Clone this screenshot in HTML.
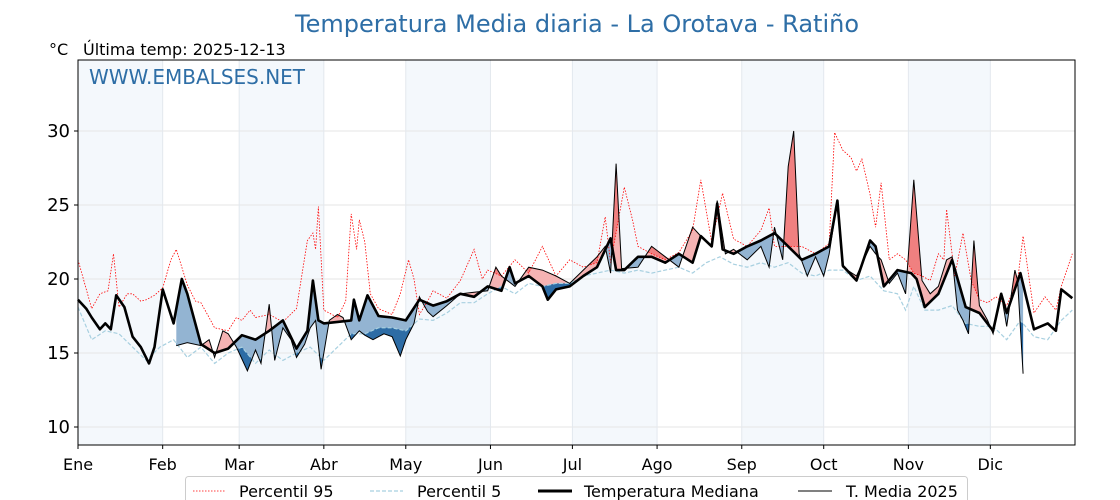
<!DOCTYPE html>
<html><head><meta charset="utf-8"><style>
html,body{margin:0;padding:0;background:#fff;}
svg{display:block;font-family:"DejaVu Sans","Liberation Sans",sans-serif;}
</style></head><body>
<svg id="chart" width="1120" height="500" viewBox="0 0 1120 500" xmlns="http://www.w3.org/2000/svg">
<text x="577" y="32" text-anchor="middle" font-size="24" fill="#2e6ea6">Temperatura Media diaria - La Orotava - Ratiño</text>
<text x="49" y="55" font-size="16" fill="#000">°C</text>
<text x="83" y="55" font-size="16" fill="#000">Última temp: 2025-12-13</text>
<g id="bands"></g>
<g id="grid"></g>
<defs id="defs"></defs>
<g id="fills"></g>
<g id="lines"></g>
<rect x="78" y="60" width="997" height="385" fill="none" stroke="#000" stroke-width="1"/>
<text x="89" y="84" font-size="20" fill="#2e6ea6">WWW.EMBALSES.NET</text>
<g id="axes"></g>
<g>
<rect x="185.5" y="476.5" width="782" height="30" rx="3" fill="#fff" stroke="#ccc"/>
<line x1="193" y1="491" x2="226" y2="491" stroke="red" stroke-width="0.8" stroke-dasharray="1.5,1.5"/>
<text x="239" y="497" font-size="16">Percentil 95</text>
<line x1="370" y1="491" x2="403" y2="491" stroke="#a8d0e0" stroke-width="1.2" stroke-dasharray="4,2"/>
<text x="417" y="497" font-size="16">Percentil 5</text>
<line x1="538" y1="491" x2="572" y2="491" stroke="#000" stroke-width="3"/>
<text x="584" y="497" font-size="16">Temperatura Mediana</text>
<line x1="798" y1="491" x2="832" y2="491" stroke="#000" stroke-width="1"/>
<text x="846" y="497" font-size="16">T. Media 2025</text>
</g>
</svg>
<script>
const monthLabels=["Ene","Feb","Mar","Abr","May","Jun","Jul","Ago","Sep","Oct","Nov","Dic"];
const monthStarts=[0,31,59,90,120,151,181,212,243,273,304,334];
const yTicks=[10,15,20,25,30];
const medDays=[0,3,5,8,10,12,14,17,20,23,26,28,31,35,38,40,45,50,55,60,65,70,75,80,84,86,88,90,95,100,101,103,106,110,115,120,125,130,135,140,145,150,155,158,160,165,170,172,175,180,185,190,195,197,200,205,210,215,220,225,228,232,234,236,240,245,250,255,260,265,270,275,278,280,285,290,292,295,300,305,307,310,315,320,325,330,335,338,340,345,348,350,355,358,360,364];
const medVals=[18.6,18.0,17.4,16.6,17.0,16.6,18.9,18.1,16.1,15.4,14.3,15.4,19.3,17.0,20.0,19.0,15.6,15.0,15.3,16.2,15.9,16.5,17.2,15.3,16.5,19.9,17.2,17.0,17.1,17.2,18.6,17.2,18.9,17.5,17.4,17.2,18.6,18.2,18.5,19.0,18.8,19.5,19.2,20.8,19.7,20.2,19.5,18.6,19.3,19.5,20.2,20.8,22.75,20.6,20.6,21.5,21.5,21.1,21.7,21.1,22.9,22.2,25.1,22.0,21.7,22.2,22.6,23.1,22.2,21.3,21.7,22.2,25.3,20.9,19.9,22.6,22.2,19.5,20.6,20.4,20.0,18.1,19.0,21.3,18.1,17.7,16.5,19.0,17.7,20.4,18.1,16.6,17.0,16.5,19.3,18.7];
const t25Days=[36,40,45,48,50,53,55,58,62,65,67,70,72,75,78,80,83,85,87,89,92,95,97,100,103,105,108,112,115,118,120,123,125,128,130,135,140,145,150,153,155,160,165,170,175,180,185,190,193,195,197,199,205,210,215,220,225,228,232,234,237,240,245,250,253,255,258,260,262,264,267,270,273,275,278,280,285,290,292,294,297,300,303,306,309,312,315,318,320,322,324,326,328,330,333,335,338,340,343,344,346];
const t25Vals=[15.5,15.7,15.5,15.9,14.7,16.5,16.3,15.4,13.8,15.2,14.3,18.3,14.5,16.7,15.9,14.7,15.6,16.7,17.2,13.9,17.2,17.6,17.4,15.9,16.5,16.2,15.9,16.3,16.1,14.8,15.9,17.0,18.8,17.8,17.45,18.2,19.0,19.1,19.2,20.8,20.2,19.5,20.8,20.6,20.2,19.7,20.6,21.5,22.2,20.4,27.8,20.7,20.8,22.2,21.5,20.8,23.5,22.9,22.2,25.3,21.7,22.0,21.3,22.2,20.8,23.5,21.3,27.6,30.0,21.7,20.2,21.5,20.2,21.7,25.3,20.8,20.2,22.2,21.7,21.3,19.7,20.4,19.0,26.7,19.9,19.0,19.5,21.3,21.5,17.9,17.2,16.3,22.6,18.2,17.2,16.3,19.0,16.8,20.6,19.9,13.6];
const p95Days=[0,5,8,11,13,15,18,20,23,25,28,31,34,36,40,43,45,48,50,55,58,60,63,65,70,75,80,84,86,87,88,90,95,98,100,102,103,105,107,110,115,118,121,123,125,128,130,135,140,145,148,150,155,160,165,170,175,180,185,190,193,195,200,203,205,210,215,220,225,228,232,236,240,245,250,253,255,260,265,270,275,277,280,283,285,287,290,292,294,297,300,303,306,309,312,315,317,318,321,324,327,330,333,336,340,344,346,350,354,358,360,364];
const p95Vals=[21.3,18.0,19.0,19.2,21.7,18.1,19.0,19.0,18.5,18.6,18.9,19.4,21.3,22.0,19.6,18.5,18.4,17.4,16.7,16.5,17.4,17.2,17.9,17.4,17.6,17.1,18.0,22.6,23.1,22.0,24.9,17.9,17.4,18.5,24.4,22.0,24.0,22.5,19.0,18.0,17.6,19.0,21.3,20.0,17.6,18.5,19.2,18.7,19.9,22.0,20.0,20.6,20.2,21.3,20.4,22.2,20.2,21.3,20.8,21.1,24.2,21.1,26.2,24.0,22.2,21.7,21.3,21.8,23.3,26.7,22.5,25.8,22.7,22.2,23.3,24.8,22.2,22.2,22.2,21.7,22.4,29.9,28.7,28.2,27.3,28.1,25.7,23.5,26.5,21.3,21.7,21.3,20.4,20.2,19.9,21.7,21.3,24.7,20.2,23.1,19.9,18.6,18.4,18.8,18.2,19.9,22.9,17.7,18.8,17.9,19.5,21.7];
const p5Days=[0,5,10,15,20,25,30,35,40,45,50,55,60,65,70,75,80,85,90,95,100,105,110,115,120,125,130,135,140,145,150,155,160,165,170,175,180,185,190,195,200,205,210,215,220,225,230,235,240,245,250,255,260,265,270,275,280,285,290,295,300,303,306,310,315,320,325,330,335,340,345,350,355,360,364];
const p5Vals=[18.1,15.9,16.5,16.3,15.4,14.5,15.4,15.9,14.7,15.4,14.3,15.0,15.4,14.3,15.2,14.5,15.0,15.4,14.5,15.4,16.3,16.3,16.7,16.7,16.5,17.3,17.2,17.7,18.4,18.4,19.0,19.5,19.0,19.7,19.5,19.7,19.7,20.2,20.4,20.6,20.4,20.6,20.4,20.6,20.8,20.4,21.1,21.5,21.0,20.8,21.1,20.8,21.1,20.4,20.2,20.6,20.6,19.9,20.2,19.2,19.0,17.9,19.5,17.9,17.9,18.2,17.0,16.8,16.8,15.9,17.2,16.1,15.9,17.2,17.9];

const NS="http://www.w3.org/2000/svg";
const X0=78,X1=1075,YT=60,YB=445;
const xs=d=>X0+d*(X1-X0)/365;
const ys=v=>279-(v-20)*14.8;
function mk(tag,attrs,parent){const e=document.createElementNS(NS,tag);for(const k in attrs)e.setAttribute(k,attrs[k]);parent.appendChild(e);return e;}
function pts(days,vals){return days.map((d,i)=>xs(d).toFixed(1)+","+ys(vals[i]).toFixed(1));}
function interp(days,vals,d){if(d<=days[0])return vals[0];for(let i=1;i<days.length;i++){if(d<=days[i]){const t=(d-days[i-1])/(days[i]-days[i-1]);return vals[i-1]+t*(vals[i]-vals[i-1]);}}return vals[vals.length-1];}

const bands=document.getElementById('bands');
for(let m=0;m<12;m+=2){
  const e=monthStarts[m+1]!==undefined?monthStarts[m+1]:365;
  const r=mk('rect',{x:xs(monthStarts[m]),y:YT,width:xs(e)-xs(monthStarts[m]),height:YB-YT,fill:'#f4f8fc'},bands);
  
  
}
const grid=document.getElementById('grid');
yTicks.forEach(v=>{const l=mk('line',{x1:X0,x2:X1,y1:ys(v),y2:ys(v),stroke:'#e6e6e6','stroke-width':1},grid);
  
  });
monthStarts.forEach(d=>{const l=mk('line',{x1:xs(d),x2:xs(d),y1:YT,y2:YB,stroke:'#e3e8ee','stroke-width':1},grid);
  
  });

const defs=document.getElementById('defs');
function clip(id,days,vals,edge){const c=mk('clipPath',{id:id},defs);
  const p=pts(days,vals);const ey=edge==='top'?0:500;
  mk('polygon',{points:p.join(' ')+` ${xs(days[days.length-1])+20},${ys(vals[vals.length-1])} ${xs(days[days.length-1])+20},${ey} ${xs(days[0])-20},${ey} ${xs(days[0])-20},${ys(vals[0])}`},c);}
clip('aboveMed',medDays,medVals,'top');
clip('belowMed',medDays,medVals,'bottom');
clip('aboveP95',p95Days,p95Vals,'top');
clip('belowP5',p5Days,p5Vals,'bottom');

const d0=t25Days[0],d1=t25Days[t25Days.length-1];
const medSeg=[d0].concat(medDays.filter(d=>d>d0&&d<d1)).concat([d1]);
const back=medSeg.slice().reverse().map(d=>xs(d).toFixed(1)+","+ys(interp(medDays,medVals,d)).toFixed(1));
const bandPts=pts(t25Days,t25Vals).concat(back).join(' ');
const fills=document.getElementById('fills');
[['aboveMed','#f5b3b3','fill-above-median'],['aboveP95','#f08080','fill-above-p95'],['belowMed','#93b4d2','fill-below-median'],['belowP5','#2d6ca5','fill-below-p5']].forEach(([c,col,nm])=>{
  const g=mk('g',{'clip-path':`url(#${c})`},fills);
  const p=mk('polygon',{points:bandPts,fill:col,stroke:'none'},g);
  
  
});

const lines=document.getElementById('lines');
let e;
e=mk('polyline',{points:pts(p95Days,p95Vals).join(' '),fill:'none',stroke:'red','stroke-width':0.8,'stroke-dasharray':'1.5,1.5'},lines);


e=mk('polyline',{points:pts(p5Days,p5Vals).join(' '),fill:'none',stroke:'#a8d0e0','stroke-width':1.2,'stroke-dasharray':'4,2'},lines);


e=mk('polyline',{points:pts(t25Days,t25Vals).join(' '),fill:'none',stroke:'#000','stroke-width':1},lines);


e=mk('polyline',{points:pts(medDays,medVals).join(' '),fill:'none',stroke:'#000','stroke-width':2.6,'stroke-linejoin':'round'},lines);



const axes=document.getElementById('axes');
yTicks.forEach(v=>{
  e=mk('line',{x1:X0-4,x2:X0,y1:ys(v),y2:ys(v),stroke:'#000'},axes);
  
  
  e=mk('text',{x:X0-8,y:ys(v)+6,'text-anchor':'end','font-size':18},axes);e.textContent=v;
  
  
});
monthStarts.forEach((d,i)=>{
  e=mk('line',{x1:xs(d),x2:xs(d),y1:YB,y2:YB+4,stroke:'#000'},axes);
  
  
  e=mk('text',{x:xs(d),y:470,'text-anchor':'middle','font-size':16},axes);e.textContent=monthLabels[i];
  
  
});
</script>
</body></html>
